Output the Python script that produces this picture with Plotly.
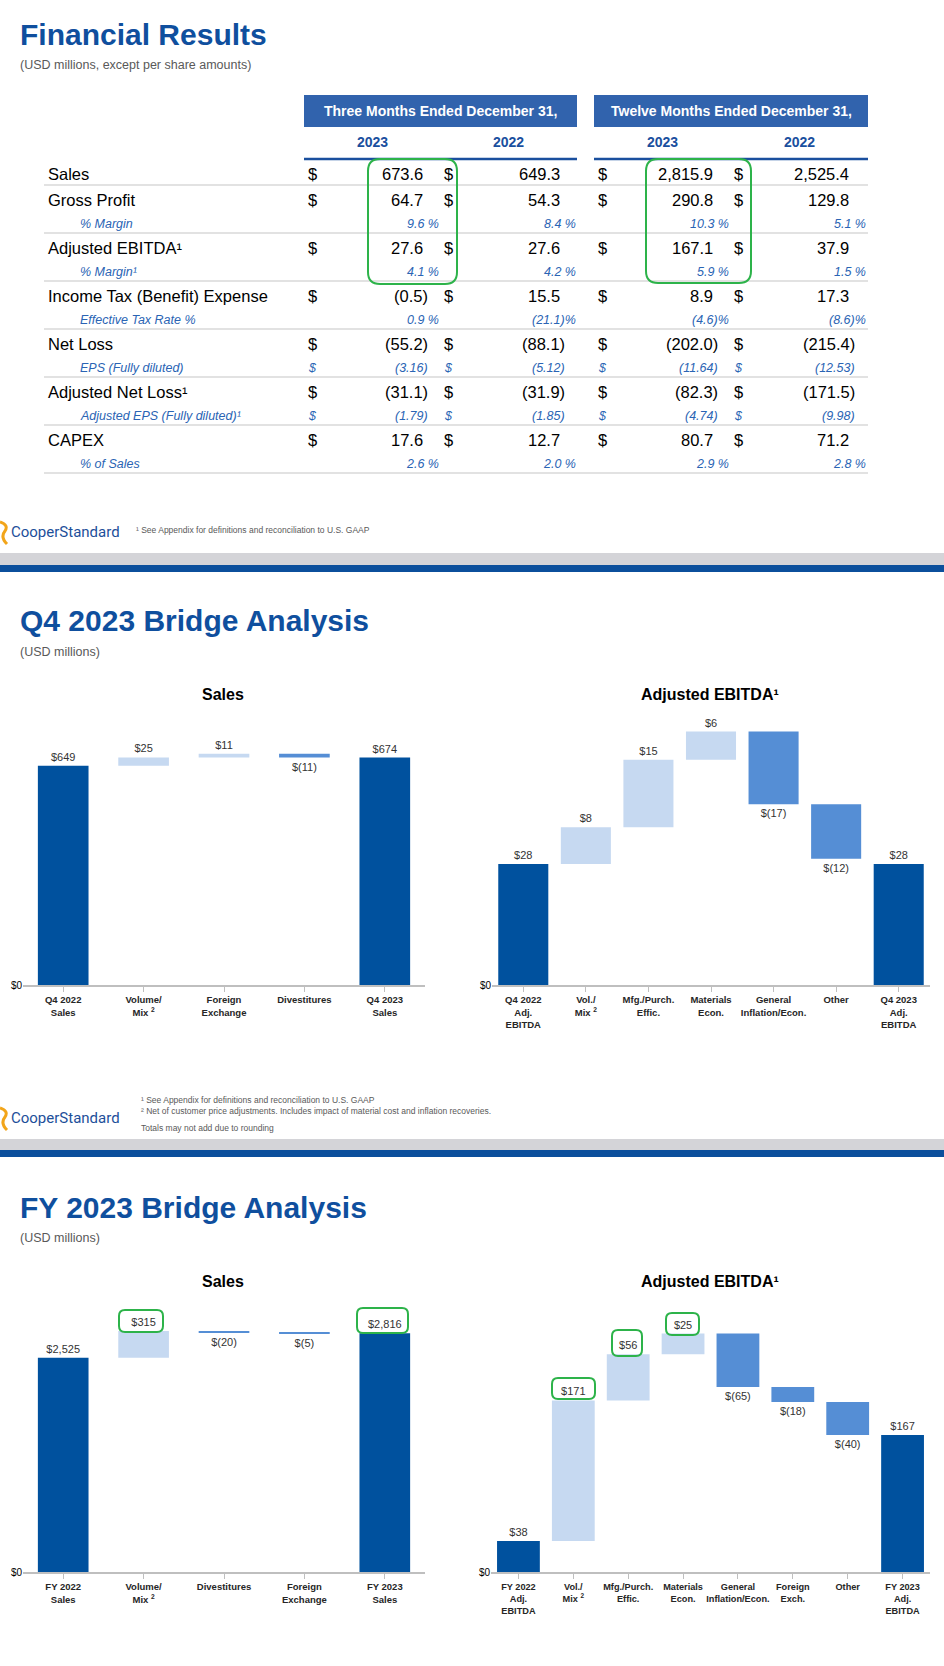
import plotly.graph_objects as go

# ---------------- DATA ----------------
row_labels = ["Sales", "Gross Profit", "% Margin", "Adjusted EBITDA¹", "% Margin¹",
              "Income Tax (Benefit) Expense", "Effective Tax Rate %", "Net Loss",
              "EPS (Fully diluted)", "Adjusted Net Loss¹", "Adjusted EPS (Fully diluted)¹",
              "CAPEX", "% of Sales"]
row_kind = ["main", "main", "pct", "main", "pct", "main", "pct", "main", "eps",
            "main", "eps", "main", "pct"]
q4_2023 = [673.6, 64.7, 9.6, 27.6, 4.1, -0.5, 0.9, -55.2, -3.16, -31.1, -1.79, 17.6, 2.6]
q4_2022 = [649.3, 54.3, 8.4, 27.6, 4.2, 15.5, -21.1, -88.1, -5.12, -31.9, -1.85, 12.7, 2.0]
fy_2023 = [2815.9, 290.8, 10.3, 167.1, 5.9, 8.9, -4.6, -202.0, -11.64, -82.3, -4.74, 80.7, 2.9]
fy_2022 = [2525.4, 129.8, 5.1, 37.9, 1.5, 17.3, -8.6, -215.4, -12.53, -171.5, -9.98, 71.2, 2.8]
period_headers = ["Three Months Ended December 31,", "Twelve Months Ended December 31,"]
year_headers = ["2023", "2022", "2023", "2022"]

# bridges: first and last bars are reported totals; the steps in between are
# the (rounded-label) changes, so totals may not add due to rounding
q4_sales_cats = ["Q4 2022<br>Sales", "Volume/<br>Mix <sup>2</sup>", "Foreign<br>Exchange",
                 "Divestitures", "Q4 2023<br>Sales"]
q4_sales_vals = [649.3, 24.6, 10.9, -11.2, 673.6]
q4_sales_meas = ["absolute", "relative", "relative", "relative", "absolute"]

q4_ebitda_cats = ["Q4 2022<br>Adj.<br>EBITDA", "Vol./<br>Mix <sup>2</sup>", "Mfg./Purch.<br>Effic.",
                  "Materials<br>Econ.", "General<br>Inflation/Econ.", "Other",
                  "Q4 2023<br>Adj.<br>EBITDA"]
q4_ebitda_vals = [27.6, 8.4, 15.4, 6.4, -16.6, -12.4, 27.6]
q4_ebitda_meas = ["absolute", "relative", "relative", "relative", "relative", "relative", "absolute"]

fy_sales_cats = ["FY 2022<br>Sales", "Volume/<br>Mix <sup>2</sup>", "Divestitures",
                 "Foreign<br>Exchange", "FY 2023<br>Sales"]
fy_sales_vals = [2525.4, 315.4, -19.8, -5.1, 2815.9]
fy_sales_meas = ["absolute", "relative", "relative", "relative", "absolute"]

fy_ebitda_cats = ["FY 2022<br>Adj.<br>EBITDA", "Vol./<br>Mix <sup>2</sup>", "Mfg./Purch.<br>Effic.",
                  "Materials<br>Econ.", "General<br>Inflation/Econ.", "Foreign<br>Exch.",
                  "Other", "FY 2023<br>Adj.<br>EBITDA"]
fy_ebitda_vals = [37.9, 171.4, 56.3, 25.2, -65.2, -18.3, -40.2, 167.1]
fy_ebitda_meas = ["absolute", "relative", "relative", "relative", "relative", "relative",
                  "relative", "absolute"]

# ---------------- STYLE ----------------
W, H = 944, 1666
FONT = "Liberation Sans, Arial, sans-serif"
TITLE_BLUE = "#0f4f9e"
HDR_BLUE = "#3163ad"
YEAR_BLUE = "#1a4f9e"
SUB_BLUE = "#2a64b4"
DARK = "#00519e"
LIGHT = "#c6d9f1"
MID = "#558ed5"
GREEN = "#2db34a"
GRAY_TXT = "#595959"


def X(px):
    return px / W


def Y(py):
    return 1 - py / H


annotations = []
shapes = []


def txt(x, y, s, size, color="#000000", xanchor="left", yanchor="middle", family=FONT):
    annotations.append(dict(x=X(x), y=Y(y), xref="paper", yref="paper", text=s,
                            showarrow=False, xanchor=xanchor, yanchor=yanchor,
                            borderpad=0, font=dict(family=family, size=size, color=color)))


def rect(x0, y0, x1, y1, fill):
    shapes.append(dict(type="rect", xref="paper", yref="paper", x0=X(x0), x1=X(x1),
                       y0=Y(y1), y1=Y(y0), fillcolor=fill, line=dict(width=0), layer="below"))


def hline(x0, x1, y, color, w):
    shapes.append(dict(type="line", xref="paper", yref="paper", x0=X(x0), x1=X(x1),
                       y0=Y(y), y1=Y(y), line=dict(color=color, width=w), layer="below"))


def rrect(x0, y0, x1, y1, r=9, color=GREEN, w=2):
    p = (f"M {X(x0 + r)},{Y(y0)} L {X(x1 - r)},{Y(y0)} Q {X(x1)},{Y(y0)} {X(x1)},{Y(y0 + r)} "
         f"L {X(x1)},{Y(y1 - r)} Q {X(x1)},{Y(y1)} {X(x1 - r)},{Y(y1)} "
         f"L {X(x0 + r)},{Y(y1)} Q {X(x0)},{Y(y1)} {X(x0)},{Y(y1 - r)} "
         f"L {X(x0)},{Y(y0 + r)} Q {X(x0)},{Y(y0)} {X(x0 + r)},{Y(y0)} Z")
    shapes.append(dict(type="path", xref="paper", yref="paper", path=p,
                       line=dict(color=color, width=w), fillcolor="rgba(0,0,0,0)", layer="above"))


def fmt_num(v, dec):
    s = f"{abs(v):,.{dec}f}"
    return f"({s})" if v < 0 else s


def fmt_pct(v):
    s = f"{abs(v):.1f}"
    return f"({s})%" if v < 0 else f"{s} %"


def money(v):
    r = round(v)
    return f"$({abs(r):,})" if r < 0 else f"${r:,}"


# ---------------- PAGE 1: table ----------------
txt(19, 34, "<b>Financial Results</b>", 30, TITLE_BLUE)
txt(19, 65, "(USD millions, except per share amounts)", 12.5, GRAY_TXT)

boxes = [(304, 577), (594, 868)]
for (bx0, bx1), h in zip(boxes, period_headers):
    rect(bx0, 95, bx1, 127, HDR_BLUE)
    txt((bx0 + bx1) / 2, 111, f"<b>{h}</b>", 14, "#ffffff", xanchor="center")
    hline(bx0, bx1, 159, YEAR_BLUE, 2.5)

year_x = [372, 508, 662, 799]
for yx, yh in zip(year_x, year_headers):
    txt(yx, 142, f"<b>{yh}</b>", 14, YEAR_BLUE, xanchor="center")

dollar_x = [312, 448, 602, 738]
val_right = [424, 561, 714, 850]
paren_right = [429, 566, 719, 856]
pct_right = [440, 577, 730, 867]
cols = [q4_2023, q4_2022, fy_2023, fy_2022]

for i, (lab, kind) in enumerate(zip(row_labels, row_kind)):
    y = 176 + 24 * i - (2 if i == 0 else 0)
    if kind == "main":
        txt(47, y, lab, 16.5)
        for c in range(4):
            v = cols[c][i]
            txt(dollar_x[c], y, "$", 16.5, xanchor="center")
            xr = paren_right[c] if v < 0 else val_right[c]
            txt(xr, y, fmt_num(v, 1), 16.5, xanchor="right")
    elif kind == "eps":
        txt(79, y, f"<i>{lab}</i>", 12.5, SUB_BLUE)
        for c in range(4):
            v = cols[c][i]
            txt(dollar_x[c], y, "<i>$</i>", 12.5, SUB_BLUE, xanchor="center")
            xr = paren_right[c] if v < 0 else val_right[c]
            txt(xr, y, f"<i>{fmt_num(v, 2)}</i>", 12.5, SUB_BLUE, xanchor="right")
    else:
        txt(79, y, f"<i>{lab}</i>", 12.5, SUB_BLUE)
        for c in range(4):
            v = cols[c][i]
            txt(pct_right[c], y, f"<i>{fmt_pct(v)}</i>", 12.5, SUB_BLUE, xanchor="right")

for ly in [185, 233, 281, 329, 377, 425, 473]:
    hline(44, 868, ly, "#d9d9d9", 1.5)

rrect(368, 159, 457, 284, r=12)
rrect(646, 159, 751, 283, r=12)


def logo(yc):
    txt(10, yc, "CooperStandard", 15, "#1d4f9a", family="Roboto, Liberation Sans, sans-serif")
    p = (f"M {X(0)},{Y(yc - 10)} Q {X(9)},{Y(yc - 7)} {X(5)},{Y(yc - 1)} "
         f"Q {X(0)},{Y(yc + 5)} {X(7)},{Y(yc + 12)}")
    shapes.append(dict(type="path", xref="paper", yref="paper", path=p,
                       line=dict(color="#f2a51a", width=3), fillcolor="rgba(0,0,0,0)"))


logo(532)
txt(135, 530, "¹ See Appendix for definitions and reconciliation to U.S. GAAP", 8.5, GRAY_TXT)
rect(0, 553, W, 565, "#d4d4d8")
rect(0, 565, W, 572, "#0b4f9c")

# ---------------- PAGE 2 ----------------
txt(19, 620, "<b>Q4 2023 Bridge Analysis</b>", 30, TITLE_BLUE)
txt(19, 652, "(USD millions)", 12.5, GRAY_TXT)
txt(223, 694, "<b>Sales</b>", 16, xanchor="center")
txt(710, 694, "<b>Adjusted EBITDA¹</b>", 16, xanchor="center")

logo(1118)
txt(140, 1100, "¹ See Appendix for definitions and reconciliation to U.S. GAAP", 8.5, GRAY_TXT)
txt(140, 1111, "² Net of customer price adjustments. Includes impact of material cost and inflation recoveries.",
    8.5, GRAY_TXT)
txt(140, 1128, "Totals may not add due to rounding", 8.5, GRAY_TXT)
rect(0, 1139, W, 1150, "#d4d4d8")
rect(0, 1150, W, 1157, "#0b4f9c")

# ---------------- PAGE 3 ----------------
txt(19, 1207, "<b>FY 2023 Bridge Analysis</b>", 30, TITLE_BLUE)
txt(19, 1238, "(USD millions)", 12.5, GRAY_TXT)
txt(223, 1281, "<b>Sales</b>", 16, xanchor="center")
txt(710, 1281, "<b>Adjusted EBITDA¹</b>", 16, xanchor="center")

# highlight boxes on FY charts
rrect(119, 1310, 163, 1332, r=6)
rrect(357, 1308, 408, 1333, r=6)
rrect(552, 1378, 595, 1399, r=6)
rrect(612, 1330, 642, 1356, r=6)
rrect(666, 1313, 699, 1335, r=6)

# ---------------- WATERFALLS ----------------
fig = go.Figure()


def add_wf(cats, vals, meas, ax, width):
    labels = []
    for v, m in zip(vals, meas):
        labels.append(money(v))
    fig.add_trace(go.Waterfall(
        x=cats, y=vals, measure=meas,
        text=labels, textposition="outside", cliponaxis=False, constraintext="none",
        textfont=dict(family=FONT, size=11, color="#333333"),
        increasing=dict(marker=dict(color=LIGHT)),
        decreasing=dict(marker=dict(color=MID)),
        totals=dict(marker=dict(color=DARK)),
        connector=dict(visible=False), width=width,
        xaxis="x" if ax == 1 else f"x{ax}", yaxis="y" if ax == 1 else f"y{ax}",
        showlegend=False, hoverinfo="skip"))


add_wf(q4_sales_cats, q4_sales_vals, q4_sales_meas, 1, 0.63)
add_wf(q4_ebitda_cats, q4_ebitda_vals, q4_ebitda_meas, 2, 0.8)
add_wf(fy_sales_cats, fy_sales_vals, fy_sales_meas, 3, 0.63)
add_wf(fy_ebitda_cats, fy_ebitda_vals, fy_ebitda_meas, 4, 0.78)


def xax(x0, x1, anchor, fsize=9.5):
    return dict(domain=[X(x0), X(x1)], anchor=anchor, type="category", showline=True,
                linecolor="#bfbfbf", linewidth=1.5, ticks="outside", ticklen=5,
                tickcolor="#bfbfbf", showgrid=False, zeroline=False, fixedrange=True,
                tickangle=0, automargin=False,
                tickfont=dict(family=FONT, size=fsize, color="#262626", weight="bold"))


def yax(base, top, rng, anchor):
    return dict(domain=[Y(base), Y(top)], anchor=anchor, range=[0, rng], showgrid=False,
                zeroline=False, showline=False, tickvals=[0], ticktext=["$0"], ticks="",
                fixedrange=True, automargin=False,
                tickfont=dict(family=FONT, size=10, color="#000000"))


fig.update_layout(
    width=W, height=H, margin=dict(l=0, r=0, t=0, b=0),
    paper_bgcolor="#ffffff", plot_bgcolor="rgba(0,0,0,0)",
    font=dict(family=FONT),
    xaxis=xax(23, 425, "y"), yaxis=yax(985, 700, 844, "x"),
    xaxis2=xax(492, 930, "y2"), yaxis2=yax(985, 700, 65, "x2"),
    xaxis3=xax(23, 425, "y3"), yaxis3=yax(1572, 1290, 3325, "x3"),
    xaxis4=xax(491, 930, "y4", 9.2), yaxis4=yax(1572, 1290, 344, "x4"),
    annotations=annotations, shapes=shapes,
)

fig.write_html("out.html", config={"displayModeBar": False},
               post_script="document.body.style.margin='0px';")
